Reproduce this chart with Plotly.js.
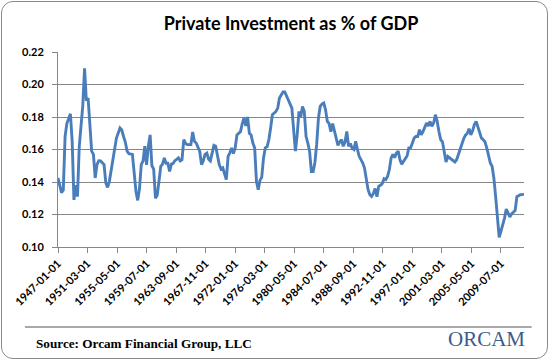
<!DOCTYPE html>
<html>
<head>
<meta charset="utf-8">
<script src="https://cdn.plot.ly/plotly-3.0.1.min.js"></script>
<style>
html,body{margin:0;padding:0;background:#fff;}
#frame{position:absolute;left:1px;top:1px;width:547px;height:358px;border:1px solid #8a8a8a;border-radius:12px;box-sizing:border-box;}
#chart{position:absolute;left:0;top:0;width:551px;height:362px;}
</style>
</head>
<body>
<div id="frame"></div>
<div id="chart"></div>
<script>
const quarterDates = [
"1947-01","1947-04","1947-07","1947-10","1948-01","1948-04","1948-07","1948-10",
"1949-01","1949-04","1949-07","1949-10","1950-01","1950-04","1950-07","1950-10",
"1951-01","1951-04","1951-07","1951-10","1952-01","1952-04","1952-07","1952-10",
"1953-01","1953-07","1953-10","1954-01","1954-04","1954-07",
"1955-01","1955-04","1955-10","1956-01","1956-04","1956-07","1956-10",
"1957-01","1957-07","1957-10","1958-01","1958-04","1958-07","1958-10",
"1959-01","1959-04","1959-07","1959-10","1960-01","1960-04","1960-07","1960-10",
"1961-01","1961-04","1961-07","1961-10","1962-01","1962-04","1962-07","1962-10",
"1963-01","1963-04","1963-07","1964-01","1964-04","1964-07","1964-10",
"1965-01","1965-04","1965-10","1966-01","1966-04","1966-07",
"1967-01","1967-04","1967-07","1967-10","1968-01","1968-04","1968-07","1968-10",
"1969-01","1969-04","1969-07","1969-10","1970-01","1970-04","1970-10",
"1971-01","1971-04","1971-07","1971-10","1972-01","1972-04","1972-07","1972-10",
"1973-01","1973-04","1973-07","1973-10","1974-01","1974-04","1974-07","1974-10",
"1975-01","1975-04","1975-07","1975-10","1976-01","1976-04","1976-07","1976-10",
"1977-01","1977-04","1977-10","1978-01","1978-04","1978-10",
"1979-01","1979-04","1979-10","1980-01","1980-04","1980-07","1980-10",
"1981-01","1981-04","1981-07","1981-10","1982-01","1982-04","1982-07","1982-10",
"1983-01","1983-04","1983-07","1983-10","1984-01","1984-04","1984-07","1984-10",
"1985-01","1985-04","1985-07","1985-10","1986-01","1986-04","1986-07","1986-10",
"1987-01","1987-04","1987-07","1987-10","1988-01","1988-04","1988-07","1988-10",
"1989-01","1989-04","1989-07","1989-10","1990-01","1990-04","1990-07","1990-10",
"1991-01","1991-04","1991-07","1991-10","1992-01","1992-04","1992-07","1992-10",
"1993-01","1993-04","1993-07","1993-10","1994-01","1994-04","1994-07","1994-10",
"1995-01","1995-04","1995-07","1995-10","1996-01","1996-04","1996-07","1996-10",
"1997-01","1997-04","1997-07","1997-10","1998-01","1998-04","1998-07","1998-10",
"1999-01","1999-04","1999-07","1999-10","2000-01","2000-04","2000-07","2000-10",
"2001-01","2001-04","2001-07","2001-10","2002-01","2002-04","2002-07","2002-10",
"2003-01","2003-04","2003-07","2003-10","2004-01","2004-04","2004-07","2004-10",
"2005-01","2005-04","2005-07","2005-10","2006-01","2006-04","2006-07","2006-10",
"2007-01","2007-04","2007-07","2007-10","2008-01","2008-04","2008-07","2008-10",
"2009-01","2009-04","2009-07","2009-10","2010-01","2010-04","2010-07","2010-10",
"2011-01","2011-04","2011-07","2011-10","2012-01","2012-04","2012-07","2012-10"
];
const investmentShare = [
0.1425,0.138,0.1335,0.135,0.168,0.176,0.1795,0.182,
0.165,0.129,0.138,0.131,0.162,0.1755,0.187,0.210,
0.190,0.1917,0.177,0.159,0.157,0.1425,0.1507,0.1531,
0.153,0.1507,0.1394,0.1367,0.1404,0.1465,
0.1588,0.167,0.1732,0.172,0.168,0.1646,0.159,
0.1574,0.157,0.1445,0.1342,0.1287,0.136,0.1507,
0.153,0.162,0.1506,0.162,0.169,0.150,0.148,0.130,
0.132,0.1404,0.1497,0.151,0.1548,0.1515,0.1515,0.1465,
0.151,0.1515,0.1531,0.1548,0.153,0.1537,0.166,
0.1638,0.163,0.163,0.1708,0.165,0.164,
0.1588,0.1507,0.153,0.157,0.1578,0.154,0.153,0.1578,
0.1625,0.162,0.157,0.1507,0.148,0.1487,0.1415,
0.1557,0.158,0.161,0.1575,0.161,0.169,0.170,0.171,
0.176,0.1794,0.1745,0.180,0.170,0.169,0.164,0.161,
0.1404,0.1353,0.141,0.143,0.1548,0.161,0.1617,0.166,
0.1732,0.1814,0.1834,0.1855,0.1917,0.1954,
0.1954,0.1927,0.188,0.1855,0.172,0.159,0.169,
0.1834,0.180,0.1865,0.1834,0.168,0.164,0.159,0.1465,
0.1465,0.152,0.163,0.1794,0.1865,0.188,0.1886,0.1845,
0.1773,0.176,0.171,0.176,0.172,0.167,0.1625,0.1647,
0.166,0.162,0.1646,0.1711,0.162,0.1637,0.1608,0.160,
0.165,0.160,0.1558,0.1538,0.1517,0.1486,0.1425,0.1353,
0.1322,0.1311,0.133,0.136,0.131,0.1373,0.138,0.139,
0.142,0.1415,0.1434,0.1475,0.1548,0.157,0.155,0.1578,
0.159,0.1537,0.151,0.1527,0.1537,0.156,0.161,0.161,
0.164,0.167,0.168,0.168,0.1722,0.169,0.171,0.1732,
0.1763,0.1745,0.1773,0.1743,0.1763,0.1814,0.1773,0.1711,
0.166,0.1647,0.157,0.1523,0.1557,0.1548,0.1544,0.153,
0.1523,0.1537,0.157,0.160,0.1646,0.1667,0.1688,0.170,
0.1728,0.169,0.1715,0.1753,0.1773,0.174,0.170,0.167,
0.166,0.1647,0.161,0.157,0.1517,0.1497,0.1425,0.131,
0.116,0.106,0.1097,0.1137,0.1178,0.1234,0.121,0.1185,
0.1204,0.1215,0.1224,0.131,0.1316,0.1322,0.1322,0.1326
];
const xTickDates = ["1947-01-01","1951-03-01","1955-05-01","1959-07-01","1963-09-01",
"1967-11-01","1972-01-01","1976-03-01","1980-05-01","1984-07-01","1988-09-01",
"1992-11-01","1997-01-01","2001-03-01","2005-05-01","2009-07-01"];
const xTickLabels = xTickDates.slice();
const yTickValues = [0.10,0.12,0.14,0.16,0.18,0.20,0.22];
const yTickLabels = ["0.10","0.12","0.14","0.16","0.18","0.20","0.22"];
const chartTitle = "Private Investment as % of GDP";
const sourceText = "Source: Orcam Financial Group, LLC";
const logoText = "ORCAM";

const gridCol = "#868686";
const trace = {
  x: quarterDates, y: investmentShare, type: "scatter", mode: "lines",
  line: {color: "#4a7ebb", width: 2.9, shape: "linear"},
  hoverinfo: "skip"
};
const layout = {
  width: 551, height: 362,
  margin: {l: 58, r: 27, t: 52, b: 115},
  paper_bgcolor: "rgba(0,0,0,0)", plot_bgcolor: "rgba(0,0,0,0)",
  showlegend: false,
  title: {text: chartTitle, x: 0.5, xref: "paper", xanchor: "center", y: 0.935, yref: "container", yanchor: "middle",
    font: {family: "Lato, 'Open Sans', sans-serif", size: 18, color: "#000", weight: 700}},
  xaxis: {
    type: "date", range: ["1947-01-01", "2012-10-01"],
    tickmode: "array", tickvals: xTickDates, ticktext: xTickLabels,
    tickangle: -45, ticks: "outside", ticklen: 5, tickcolor: gridCol, tickwidth: 1,
    tickfont: {family: "Lato, sans-serif", size: 11, color: "#000", weight: 700},
    showgrid: false, showline: true, linecolor: gridCol, linewidth: 1, zeroline: false,
    fixedrange: true
  },
  yaxis: {
    range: [0.10, 0.22], tickmode: "array", tickvals: yTickValues, ticktext: yTickLabels,
    ticks: "outside", ticklen: 5, tickcolor: gridCol, tickwidth: 1, ticklabelstandoff: 6,
    tickfont: {family: "Lato, sans-serif", size: 11, color: "#000", weight: 700},
    showgrid: true, gridcolor: gridCol, gridwidth: 1,
    showline: true, linecolor: gridCol, linewidth: 1, zeroline: false, fixedrange: true
  },
  shapes: [
    {type: "line", xref: "paper", yref: "paper", x0: -0.071, x1: 1.0165, y0: -0.41, y1: -0.41,
     line: {color: "#8c8c8c", width: 1.5}}
  ],
  annotations: [
    {text: sourceText, xref: "paper", yref: "paper", x: -0.0515, y: -0.497, xanchor: "left", yanchor: "middle",
     showarrow: false, font: {family: "'Liberation Serif', 'DejaVu Serif', serif", size: 13.2, color: "#000", weight: 700}},
    {text: logoText, xref: "paper", yref: "paper", x: 1.0075, y: -0.47, xanchor: "right", yanchor: "middle",
     showarrow: false, font: {family: "'Liberation Serif', serif", size: 21, color: "#3a5c8c"}}
  ]
};
Plotly.newPlot("chart", [trace], layout, {displayModeBar: false, staticPlot: true});
</script>
</body>
</html>
